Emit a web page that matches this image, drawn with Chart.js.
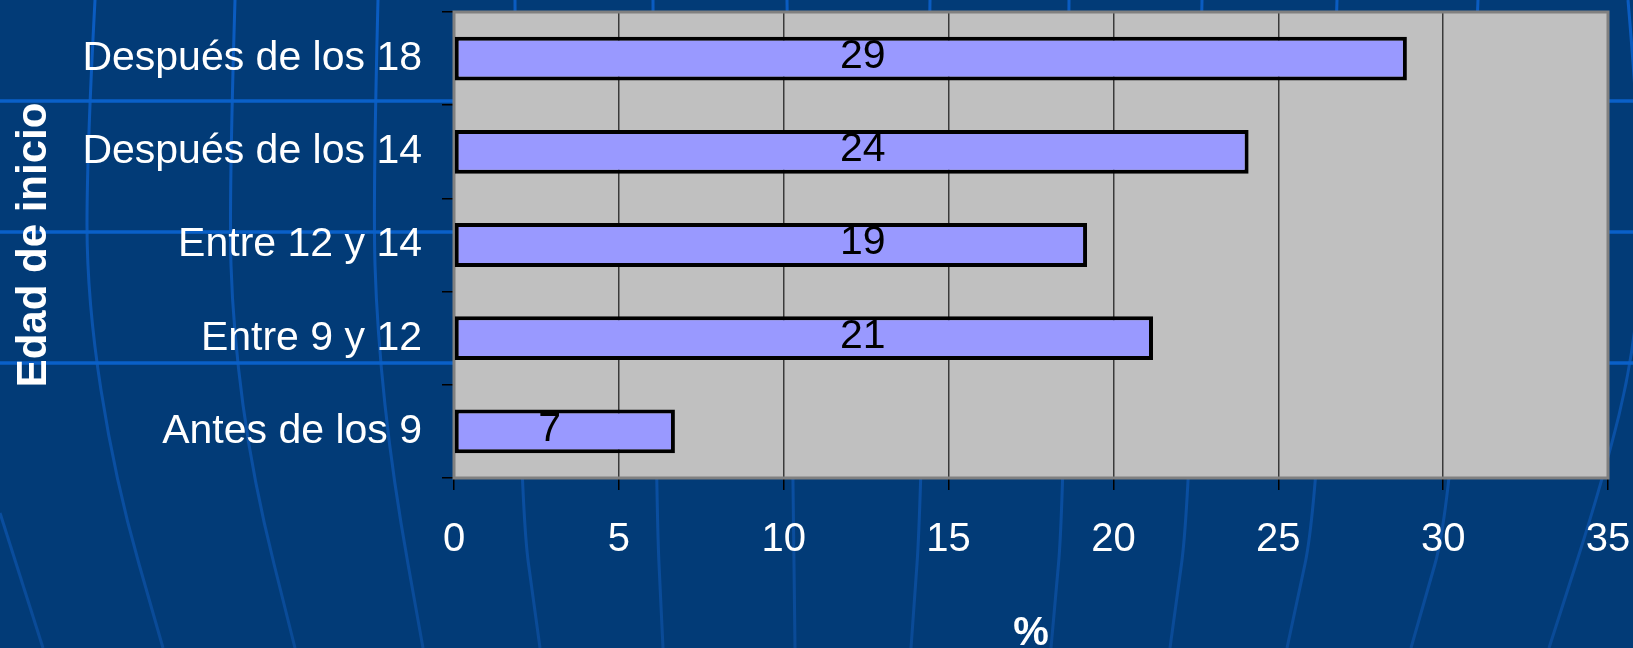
<!DOCTYPE html>
<html>
<head>
<meta charset="utf-8">
<title>Edad de inicio</title>
<script src="https://cdn.jsdelivr.net/npm/chart.js@4.4.1/dist/chart.umd.min.js"></script>
<style>
	html, body { margin: 0; padding: 0; background: #023b77; overflow: hidden; }
	#wrap { width: 1633px; height: 648px; }
</style>
</head>
<body>
<div id="wrap"><canvas id="chart" width="1633" height="648"></canvas></div>
<script>

// data
//
const categories = ['Después de los 18', 'Después de los 14', 'Entre 12 y 14', 'Entre 9 y 12', 'Antes de los 9'];
const percentValues = [28.9, 24.1, 19.2, 21.2, 6.7];
const valueLabels = ['29', '24', '19', '21', '7'];
const xMin = 0;
const xMax = 35;
const xStep = 5;

const fontFamily = '"Liberation Sans", Arial, sans-serif';

// slide background: navy with the globe lines of the template
//
const backgroundPlugin = {
	id: 'slideBackground',
	beforeDraw: function(chart) {
		const ctx = chart.ctx;
		const w = chart.width, h = chart.height;
		ctx.save();
		ctx.fillStyle = '#023b77';
		ctx.fillRect(0, 0, w, h);

		// meridians
		let meridians = [
			[[0, 513], [43, 648]],
			[[95, 0], [87, 150], [87, 300], [115, 480], [163, 648]],
			[[235, 0], [229, 200], [233, 330], [253, 480], [295, 648]],
			[[378, 0], [373, 200], [377, 330], [393, 480], [423, 648]],
			[[515, 0], [517, 480], [540, 648]],
			[[653, 0], [655, 480], [663, 648]],
			[[787, 0], [793, 480], [795, 648]],
			[[930, 0], [923, 480], [911, 648]],
			[[1069, 0], [1066, 480], [1051, 648]],
			[[1202, 0], [1193, 480], [1170, 648]],
			[[1337, 0], [1323, 480], [1287, 648]],
			[[1478, 0], [1459, 480], [1411, 648]],
			[[1628, 0], [1645, 200], [1635, 350], [1603, 480], [1549, 648]]
		];
		let grad = ctx.createLinearGradient(0, 0, 0, h);
		grad.addColorStop(0, '#0a5cc2');
		grad.addColorStop(1, '#0a4a96');
		ctx.strokeStyle = grad;
		ctx.lineWidth = 3;
		meridians.forEach(function(pts) {
			ctx.beginPath();
			ctx.moveTo(pts[0][0], pts[0][1]);
			for (let i = 1; i < pts.length - 1; i++) {
				let mx = (pts[i][0] + pts[i + 1][0]) / 2;
				let my = (pts[i][1] + pts[i + 1][1]) / 2;
				ctx.quadraticCurveTo(pts[i][0], pts[i][1], mx, my);
			}
			ctx.lineTo(pts[pts.length - 1][0], pts[pts.length - 1][1]);
			ctx.stroke();
		});

		// parallels
		ctx.strokeStyle = '#0a60c8';
		ctx.lineWidth = 3.5;
		[101, 232, 363].forEach(function(y) {
			ctx.beginPath();
			ctx.moveTo(0, y);
			ctx.lineTo(w, y);
			ctx.stroke();
		});

		// plot area
		const a = chart.chartArea;
		ctx.fillStyle = '#c0c0c0';
		ctx.fillRect(a.left, a.top, a.right - a.left, a.bottom - a.top);
		ctx.restore();
	},
	beforeDatasetsDraw: function(chart) {
		const ctx = chart.ctx;
		const a = chart.chartArea;
		ctx.save();
		ctx.strokeStyle = '#808080';
		ctx.lineWidth = 3;
		ctx.strokeRect(a.left, a.top, a.right - a.left, a.bottom - a.top);
		ctx.restore();
	}
};

// value labels inside the bars
//
const valueLabelPlugin = {
	id: 'valueLabels',
	afterDatasetsDraw: function(chart) {
		const ctx = chart.ctx;
		const xScale = chart.scales.x;
		const meta = chart.getDatasetMeta(0);
		ctx.save();
		ctx.font = '41px ' + fontFamily;
		ctx.fillStyle = '#000';
		ctx.textAlign = 'center';
		ctx.textBaseline = 'middle';
		meta.data.forEach(function(bar, i) {
			let at = Math.min(percentValues[i] - 3.8, 12.4);
			ctx.fillText(valueLabels[i], xScale.getPixelForValue(at), bar.y - 2);
		});
		ctx.restore();
	}
};

const ctx = document.getElementById('chart').getContext('2d');
new Chart(ctx, {
	type: 'bar',
	data: {
		labels: categories,
		datasets: [{
			data: percentValues,
			backgroundColor: '#9999ff',
			borderColor: '#000',
			borderWidth: 4,
			borderSkipped: false,
			barPercentage: 0.47,
			categoryPercentage: 1
		}]
	},
	options: {
		indexAxis: 'y',
		responsive: false,
		animation: false,
		devicePixelRatio: 1,
		layout: {
			padding: { top: 12, right: 25, bottom: 0, left: 0 }
		},
		plugins: {
			legend: { display: false },
			tooltip: { enabled: false }
		},
		scales: {
			x: {
				min: xMin,
				max: xMax,
				ticks: {
					stepSize: xStep,
					color: '#fff',
					font: { family: fontFamily, size: 40 },
					padding: 26,
					maxRotation: 0
				},
				grid: {
					color: '#3a3a3a',
					lineWidth: 1.5,
					tickColor: '#000',
					tickLength: 12
				},
				border: { display: false },
				title: {
					display: true,
					text: '%',
					color: '#fff',
					font: { family: fontFamily, size: 40, weight: 'bold', lineHeight: 0.7 },
					padding: 0
				},
				afterFit: function(scale) {
					scale.height = 170;
					scale.paddingLeft = 0;
					scale.paddingRight = 0;
				}
			},
			y: {
				ticks: {
					color: '#fff',
					font: { family: fontFamily, size: 41 },
					padding: 20
				},
				grid: {
					drawOnChartArea: false,
					tickColor: '#000',
					tickLength: 12,
					lineWidth: 1.5
				},
				border: { display: false },
				title: {
					display: true,
					text: 'Edad de inicio',
					color: '#fff',
					font: { family: fontFamily, size: 42, weight: 'bold' },
					padding: { top: 9, bottom: 0 }
				},
				afterFit: function(scale) {
					scale.width = 454;
					scale.paddingTop = 0;
					scale.paddingBottom = 0;
				}
			}
		}
	},
	plugins: [backgroundPlugin, valueLabelPlugin]
});
</script>
</body>
</html>
